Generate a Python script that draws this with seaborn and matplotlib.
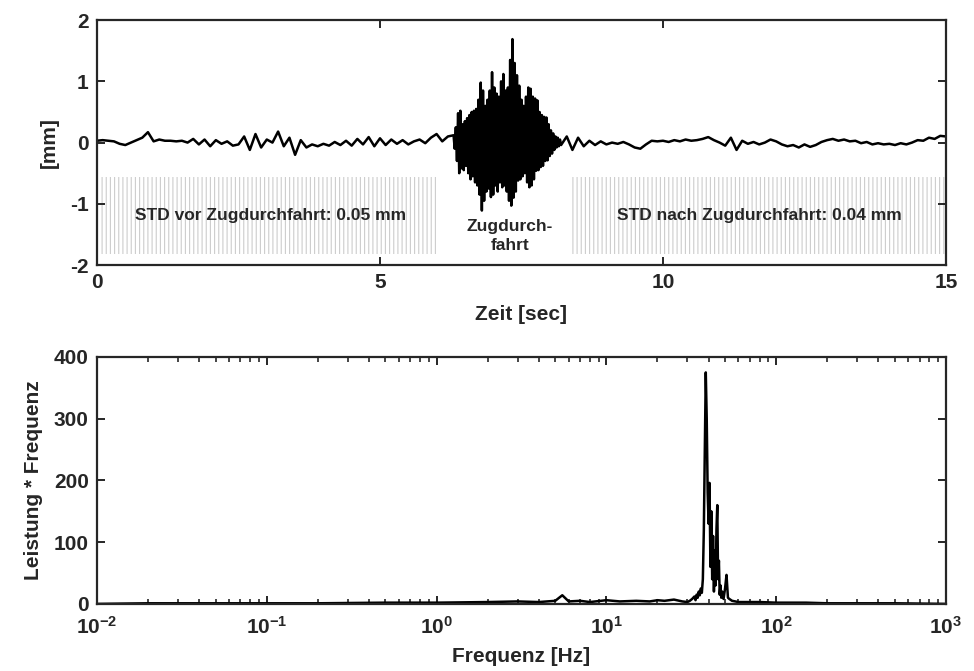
import matplotlib
matplotlib.use("Agg")
import matplotlib.pyplot as plt
import seaborn as sns
import pandas as pd
import numpy as np

# --- time signal before the train passage (t in s, displacement in mm)
zeit_vor = [0.0, 0.1, 0.2, 0.3, 0.4, 0.5, 0.6, 0.7, 0.8, 0.9,
            1.0, 1.1, 1.2, 1.3, 1.4, 1.5, 1.6, 1.7, 1.8, 1.9,
            2.0, 2.1, 2.2, 2.3, 2.4, 2.5, 2.6, 2.7, 2.8, 2.9,
            3.0, 3.1, 3.2, 3.3, 3.4, 3.5, 3.6, 3.7, 3.8, 3.9,
            4.0, 4.1, 4.2, 4.3, 4.4, 4.5, 4.6, 4.7, 4.8, 4.9,
            5.0, 5.1, 5.2, 5.3, 5.4, 5.5, 5.6, 5.7, 5.8, 5.9,
            6.0, 6.1, 6.2]
weg_vor = [0.03, 0.04, 0.03, 0.02, -0.02, -0.04, 0.00, 0.04, 0.08, 0.17,
           0.02, 0.05, 0.03, 0.03, 0.02, 0.03, 0.00, 0.06, -0.03, 0.05,
           -0.06, 0.04, -0.02, 0.02, -0.05, -0.03, 0.10, -0.12, 0.14, -0.08,
           0.05, 0.00, 0.18, -0.06, 0.08, -0.20, 0.04, -0.08, -0.03, -0.06,
           -0.02, -0.05, 0.01, -0.04, 0.03, -0.05, 0.06, -0.03, 0.09, -0.06,
           0.07, -0.04, 0.05, -0.02, 0.04, -0.03, 0.02, 0.05, -0.01, 0.08,
           0.14, 0.02, 0.10]

# --- train passage
zeit_zug = [6.30, 6.32, 6.34, 6.36, 6.38, 6.40, 6.42, 6.44, 6.46, 6.48,
            6.50, 6.52, 6.54, 6.56, 6.58, 6.60, 6.62, 6.64, 6.66, 6.68,
            6.70, 6.72, 6.74, 6.76, 6.78, 6.80, 6.82, 6.84, 6.86, 6.88,
            6.90, 6.92, 6.94, 6.96, 6.98, 7.00, 7.02, 7.04, 7.06, 7.08,
            7.10, 7.12, 7.14, 7.16, 7.18, 7.20, 7.22, 7.24, 7.26, 7.28,
            7.30, 7.32, 7.34, 7.36, 7.38, 7.40, 7.42, 7.44, 7.46, 7.48,
            7.50, 7.52, 7.54, 7.56, 7.58, 7.60, 7.62, 7.64, 7.66, 7.68,
            7.70, 7.72, 7.74, 7.76, 7.78, 7.80, 7.82, 7.84, 7.86, 7.88,
            7.90, 7.92, 7.94, 7.96, 7.98, 8.00, 8.02, 8.04, 8.06, 8.08,
            8.10, 8.12, 8.14, 8.16, 8.18, 8.20]
weg_zug = [0.12, -0.10, 0.25, -0.30, 0.48, -0.50, 0.52, -0.42, 0.30, -0.45,
           0.35, -0.38, 0.40, -0.50, 0.45, -0.60, 0.50, -0.55, 0.52, -0.65,
           0.55, -0.70, 0.70, -0.85, 0.98, -1.11, 0.85, -0.95, 0.60, -0.80,
           0.70, -0.75, 0.85, -0.89, 1.15, -0.85, 0.90, -0.70, 0.80, -0.80,
           0.75, -0.65, 1.00, -0.73, 1.12, -0.70, 0.85, -0.80, 0.90, -0.95,
           1.35, -1.03, 1.69, -0.90, 1.30, -0.80, 1.10, -0.62, 0.93, -0.60,
           0.70, -0.55, 0.60, -0.50, 0.75, -0.65, 0.90, -0.73, 0.88, -0.70,
           0.75, -0.60, 0.72, -0.46, 0.69, -0.45, 0.50, -0.40, 0.45, -0.38,
           0.42, -0.30, 0.41, -0.29, 0.30, -0.22, 0.20, -0.18, 0.15, -0.12,
           0.10, -0.08, 0.08, -0.06, 0.05, -0.04]

# --- after the train passage
zeit_nach = [8.3, 8.4, 8.5, 8.6, 8.7, 8.8, 8.9, 9.0, 9.1, 9.2,
             9.3, 9.4, 9.5, 9.6, 9.7, 9.8, 9.9, 10.0, 10.1, 10.2,
             10.3, 10.4, 10.5, 10.6, 10.7, 10.8, 10.9, 11.0, 11.1, 11.2,
             11.3, 11.4, 11.5, 11.6, 11.7, 11.8, 11.9, 12.0, 12.1, 12.2,
             12.3, 12.4, 12.5, 12.6, 12.7, 12.8, 12.9, 13.0, 13.1, 13.2,
             13.3, 13.4, 13.5, 13.6, 13.7, 13.8, 13.9, 14.0, 14.1, 14.2,
             14.3, 14.4, 14.5, 14.6, 14.7, 14.8, 14.9, 15.0]
weg_nach = [0.10, -0.12, 0.08, -0.06, 0.03, -0.04, 0.02, -0.03, 0.00, -0.02,
            0.01, -0.03, -0.08, -0.10, -0.03, 0.03, 0.02, 0.03, 0.01, 0.04,
            0.02, 0.05, 0.03, 0.04, 0.06, 0.09, 0.04, 0.00, -0.05, 0.08,
            -0.12, 0.03, -0.02, 0.01, -0.03, 0.00, 0.05, 0.02, -0.03, -0.06,
            -0.04, -0.08, -0.03, -0.07, -0.04, 0.01, 0.04, 0.06, 0.03, 0.05,
            0.02, 0.03, -0.01, 0.01, -0.03, -0.01, -0.03, -0.02, -0.04, -0.01,
            -0.03, 0.00, 0.04, 0.03, 0.08, 0.06, 0.11, 0.10]

# --- spectrum (power * frequency)
frequenz = [0.01, 0.02, 0.05, 0.1, 0.2, 0.5, 1, 2, 3, 4, 5, 5.5, 6, 7, 8,
            10, 12, 15, 18, 20, 22, 25, 28, 30, 31, 32, 33, 33.5, 34, 34.5,
            35, 35.5, 36, 36.5, 37, 37.5, 38, 38.5, 39, 39.5, 40, 40.5, 41,
            41.5, 42, 42.5, 43, 43.5, 44, 44.5, 45, 45.5, 46, 46.5, 47, 47.5,
            48, 49, 50, 51, 52, 53, 55, 60, 70, 80, 100, 150, 200, 300, 500, 1000]
leistung = [0, 1, 1, 1, 1, 2, 2, 3, 4, 3, 5, 14, 4, 5, 3,
            6, 4, 5, 4, 6, 5, 7, 4, 3, 5, 8, 12, 6, 15, 10,
            20, 14, 25, 18, 40, 120, 250, 375, 300, 180, 130, 196, 60,
            150, 40, 110, 20, 87, 30, 120, 160, 40, 70, 15, 30, 10,
            20, 8, 25, 47, 10, 8, 5, 3, 3, 3, 2, 2, 1, 1, 1, 0]

zeitreihe = pd.DataFrame({
    "zeit": zeit_vor + zeit_zug + zeit_nach,
    "weg": weg_vor + weg_zug + weg_nach,
})
spektrum = pd.DataFrame({"frequenz": frequenz, "leistung": leistung})

sns.set_style("ticks")
plt.rcParams["font.family"] = ["Liberation Sans", "DejaVu Sans"]
plt.rcParams["font.weight"] = "bold"
plt.rcParams["axes.labelweight"] = "bold"
plt.rcParams["axes.unicode_minus"] = False
plt.rcParams["mathtext.fontset"] = "custom"
plt.rcParams["mathtext.bf"] = "Liberation Sans:bold"
plt.rcParams["mathtext.rm"] = "Liberation Sans:bold"
plt.rcParams["mathtext.default"] = "bf"
plt.rcParams["hatch.linewidth"] = 0.8

fig = plt.figure(figsize=(9.74, 6.71), dpi=100)
ax1 = fig.add_axes([0.0996, 0.605, 0.8716, 0.365])
ax2 = fig.add_axes([0.0996, 0.100, 0.8716, 0.368])

# shaded windows used for the STD
ax1.fill_between([0.05, 6.05], -1.82, -0.56, facecolor="white",
                 edgecolor="#cdcdcd", hatch="||||", linewidth=0, zorder=0)
ax1.fill_between([8.4, 15.0], -1.82, -0.56, facecolor="white",
                 edgecolor="#cdcdcd", hatch="||||", linewidth=0, zorder=0)

sns.lineplot(data=zeitreihe, x="zeit", y="weg", ax=ax1, color="black",
             linewidth=1.8, sort=False, estimator=None)
ax1.set_xlim(0, 15)
ax1.set_ylim(-2, 2)
ax1.set_xticks([0, 5, 10, 15])
ax1.set_yticks([-2, -1, 0, 1, 2])
ax1.set_xlabel("Zeit [sec]", fontsize=15)
ax1.set_ylabel("[mm]", fontsize=15)

ax1.text(3.07, -1.19, "STD vor Zugdurchfahrt: 0.05 mm", ha="center",
         va="center", fontsize=12.5, fontweight="bold")
ax1.text(11.7, -1.19, "STD nach Zugdurchfahrt: 0.04 mm", ha="center",
         va="center", fontsize=12.5, fontweight="bold")
ax1.text(7.3, -1.53, "Zugdurch-\nfahrt", ha="center", va="center",
         fontsize=12.5, fontweight="bold", linespacing=1.3)

sns.lineplot(data=spektrum, x="frequenz", y="leistung", ax=ax2,
             color="black", linewidth=1.8, sort=False, estimator=None)
ax2.set_xscale("log")
ax2.set_xlim(1e-2, 1e3)
ax2.set_ylim(0, 400)
ax2.set_yticks([0, 100, 200, 300, 400])
ax2.set_xlabel("Frequenz [Hz]", fontsize=15)
ax2.set_ylabel("Leistung * Frequenz", fontsize=15)

for ax in (ax1, ax2):
    for s in ax.spines.values():
        s.set_visible(True)
        s.set_linewidth(1.6)
    ax.tick_params(direction="in", top=True, right=True, length=6,
                   width=1.4, labelsize=15, pad=6)
    ax.tick_params(which="minor", direction="in", top=True, right=True,
                   length=3.5, width=1.2)

ax2.tick_params(axis="x", which="both", pad=9)
ax1.xaxis.labelpad = 9
ax2.xaxis.labelpad = 6
ax1.yaxis.labelpad = 8
ax2.yaxis.labelpad = 8

fig.savefig("out.png", dpi=100)
